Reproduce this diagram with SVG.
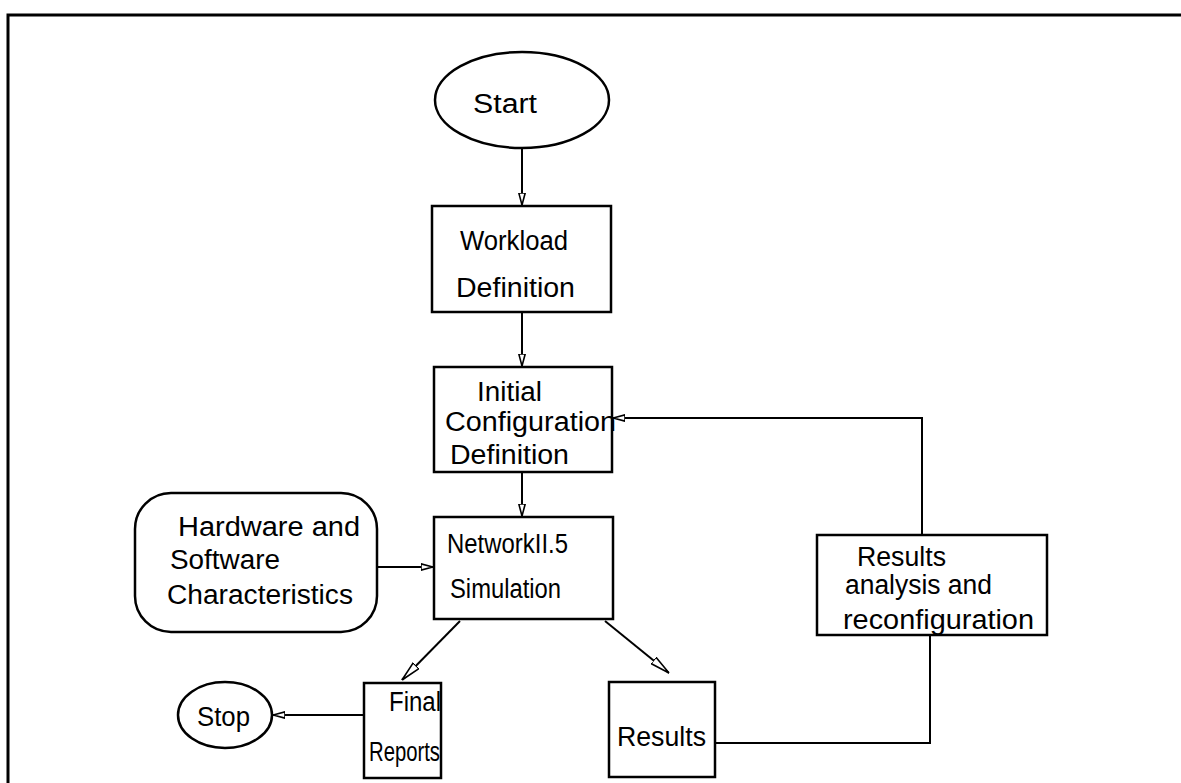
<svg xmlns="http://www.w3.org/2000/svg" width="1181" height="783" viewBox="0 0 1181 783">
  <style>
    .box { fill: #fff; stroke: #000; stroke-width: 2.5; }
    .lbl { font-family: "Liberation Sans", Arial, sans-serif; font-size: 27px; fill: #000; }
    .wire { fill: none; stroke: #000; stroke-width: 2; }
    .frame { fill: none; stroke: #000; stroke-width: 3; }
  </style>
  <defs>
    <marker id="head" viewBox="0 0 12 8" refX="12" refY="4" markerWidth="12" markerHeight="8" markerUnits="userSpaceOnUse" orient="auto">
      <path d="M0,0.8 L12,4 L0,7.2 Z" fill="#fff" stroke="#000" stroke-width="1.6"/>
    </marker>
    <marker id="headLong" viewBox="0 0 20 10" refX="20" refY="5" markerWidth="20" markerHeight="10" markerUnits="userSpaceOnUse" orient="auto">
      <path d="M0,1 L20,5 L0,9 Z" fill="#fff" stroke="#000" stroke-width="1.6"/>
    </marker>
  </defs>

  <!-- page frame: top rule and left rule -->
  <path class="frame" d="M8,783 L8,15 L1181,15"/>

  <!-- connectors -->
  <g id="connectors">
    <line class="wire" x1="522" y1="148" x2="522" y2="205" marker-end="url(#head)"/>
    <line class="wire" x1="522" y1="312" x2="522" y2="366" marker-end="url(#head)"/>
    <line class="wire" x1="522" y1="472" x2="522" y2="516" marker-end="url(#head)"/>
    <line class="wire" x1="377" y1="567" x2="433" y2="567" marker-end="url(#head)"/>
    <line class="wire" x1="460" y1="621" x2="402" y2="680" marker-end="url(#headLong)"/>
    <line class="wire" x1="605" y1="621" x2="669" y2="673" marker-end="url(#headLong)"/>
    <line class="wire" x1="364" y1="715" x2="273" y2="715" marker-end="url(#head)"/>
    <polyline class="wire" points="715,743 930,743 930,635"/>
    <polyline class="wire" points="922,535 922,418 613,418" marker-end="url(#head)"/>
  </g>

  <g id="start">
    <ellipse class="box" cx="522" cy="100" rx="87" ry="48"/>
    <text class="lbl" x="473" y="113" textLength="64" lengthAdjust="spacingAndGlyphs">Start</text>
  </g>

  <g id="workload">
    <rect class="box" x="432" y="206" width="179" height="106"/>
    <text class="lbl" x="460" y="250" textLength="108" lengthAdjust="spacingAndGlyphs">Workload</text>
    <text class="lbl" x="456" y="297" textLength="119" lengthAdjust="spacingAndGlyphs">Definition</text>
  </g>

  <g id="initial-config">
    <rect class="box" x="434" y="367" width="178" height="105"/>
    <text class="lbl" x="477" y="401" textLength="65" lengthAdjust="spacingAndGlyphs">Initial</text>
    <text class="lbl" x="445" y="431" textLength="171" lengthAdjust="spacingAndGlyphs">Configuration</text>
    <text class="lbl" x="450" y="464" textLength="119" lengthAdjust="spacingAndGlyphs">Definition</text>
  </g>

  <g id="hardware">
    <rect class="box" x="135" y="493" width="242" height="139" rx="36" ry="36"/>
    <text class="lbl" x="178" y="536" textLength="182" lengthAdjust="spacingAndGlyphs">Hardware  and</text>
    <text class="lbl" x="170" y="569" textLength="110" lengthAdjust="spacingAndGlyphs">Software</text>
    <text class="lbl" x="167" y="604" textLength="186" lengthAdjust="spacingAndGlyphs">Characteristics</text>
  </g>

  <g id="simulation">
    <rect class="box" x="434" y="517" width="179" height="102"/>
    <text class="lbl" x="447" y="553" textLength="121" lengthAdjust="spacingAndGlyphs">NetworkII.5</text>
    <text class="lbl" x="450" y="598" textLength="111" lengthAdjust="spacingAndGlyphs">Simulation</text>
  </g>

  <g id="analysis">
    <rect class="box" x="817" y="535" width="230" height="100"/>
    <text class="lbl" x="857" y="566" textLength="89" lengthAdjust="spacingAndGlyphs">Results</text>
    <text class="lbl" x="845" y="594" textLength="147" lengthAdjust="spacingAndGlyphs">analysis and</text>
    <text class="lbl" x="843" y="629" textLength="191" lengthAdjust="spacingAndGlyphs">reconfiguration</text>
  </g>

  <g id="final-reports">
    <rect class="box" x="364" y="683" width="77" height="95"/>
    <text class="lbl" x="389" y="711" textLength="52" lengthAdjust="spacingAndGlyphs">Final</text>
    <text class="lbl" x="369" y="761" textLength="71" lengthAdjust="spacingAndGlyphs">Reports</text>
  </g>

  <g id="results">
    <rect class="box" x="609" y="682" width="106" height="95"/>
    <text class="lbl" x="617" y="746" textLength="89" lengthAdjust="spacingAndGlyphs">Results</text>
  </g>

  <g id="stop">
    <ellipse class="box" cx="225" cy="715" rx="47" ry="33"/>
    <text class="lbl" x="197" y="726" textLength="53" lengthAdjust="spacingAndGlyphs">Stop</text>
  </g>
</svg>
